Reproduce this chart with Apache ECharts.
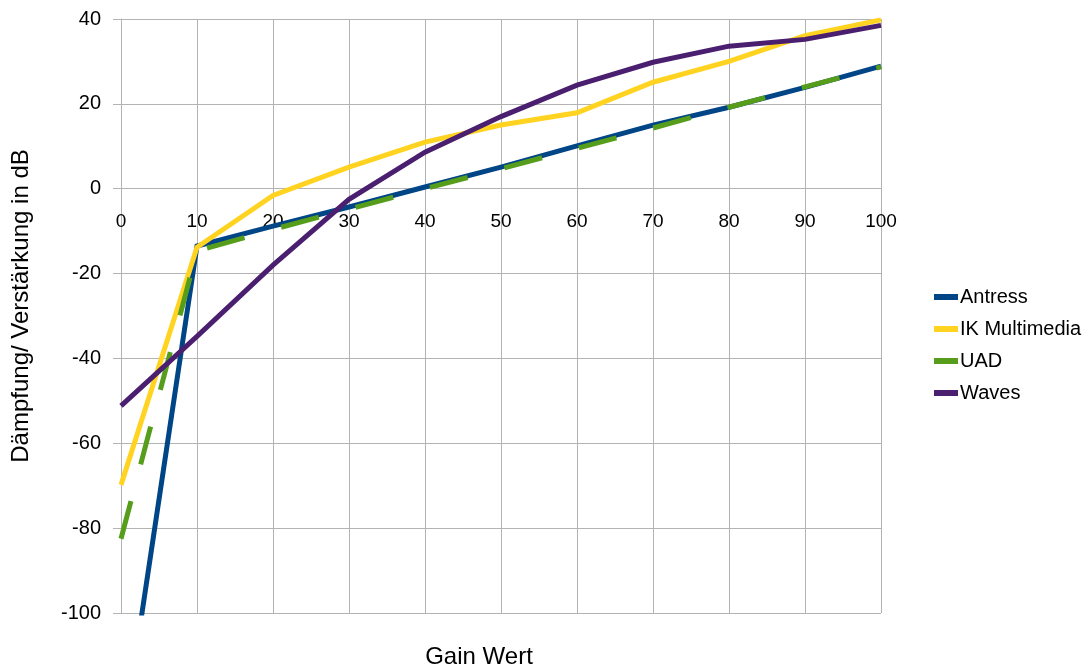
<!DOCTYPE html>
<html>
<head>
<meta charset="utf-8">
<script src="https://cdn.jsdelivr.net/npm/echarts@6/dist/echarts.min.js"></script>
<style>
html,body{margin:0;padding:0;background:#fff;}
#chart{width:1083px;height:669px;}
</style>
</head>
<body>
<div id="chart"></div>
<script>
var gainValues = [0, 10, 20, 30, 40, 50, 60, 70, 80, 90, 100];
var antress = [-133, -13.5, -8.8, -4.3, 0.4, 5.1, 10.1, 15, 19.2, 23.9, 28.9];
var ikMultimedia = [-69.8, -13.8, -1.6, 5.1, 11, 15, 17.9, 25.1, 30, 36.1, 39.8];
var uad = [-82.5, -14.7, -9.6, -4.8, 0, 4.7, 9.5, 14.3, 19.2, 24, 28.7];
var waves = [-51.2, -34.8, -18, -2.5, 8.6, 17, 24.4, 29.8, 33.6, 35.2, 38.5];
var seriesNames = ['Antress', 'IK Multimedia', 'UAD', 'Waves'];
var seriesColors = ['#004586', '#ffd320', '#579d1c', '#4b1f6f'];
var xAxisTitle = 'Gain Wert';
var yAxisTitle = 'Dämpfung/ Verstärkung in dB';

function pairs(ys) {
  return gainValues.map(function (x, i) { return [x, ys[i]]; });
}
var allData = [antress, ikMultimedia, uad, waves];

var chart = echarts.init(document.getElementById('chart'));
var fontFam = '"Liberation Sans", Arial, sans-serif';
var gridBottom = 56;
chart.setOption({
  animation: false,
  backgroundColor: '#ffffff',
  textStyle: { fontFamily: fontFam },
  grid: { left: 121, right: 202, top: 19, bottom: gridBottom, containLabel: false, outerBoundsMode: 'none' },
  legend: {
    orient: 'vertical',
    left: 929,
    top: 282,
    icon: 'rect',
    itemWidth: 24,
    itemHeight: 6,
    itemGap: 12,
    textStyle: { fontSize: 20, color: '#000', fontFamily: fontFam, padding: [0, 0, 0, -3] },
    data: seriesNames
  },
  xAxis: {
    type: 'value',
    min: 0, max: 100, interval: 10,
    name: xAxisTitle,
    nameLocation: 'middle',
    nameGap: 457,
    nameTextStyle: { fontSize: 24, color: '#000', padding: [0, 44, 0, 0] },
    axisLine: { onZero: false, lineStyle: { color: '#b3b3b3', width: 1 } },
    axisTick: { show: false },
    axisLabel: { fontSize: 19, color: '#000', margin: 24 },
    splitLine: { show: true, lineStyle: { color: '#b3b3b3', width: 1 } }
  },
  yAxis: {
    type: 'value',
    min: -100, max: 40, interval: 20,
    name: yAxisTitle,
    nameLocation: 'middle',
    nameGap: 88,
    nameRotate: 90,
    nameTextStyle: { fontSize: 24, color: '#000', padding: [0, 0, 0, 20] },
    axisLine: { show: true, onZero: false, lineStyle: { color: '#b3b3b3', width: 1 } },
    axisTick: { show: true, length: 8, lineStyle: { color: '#b3b3b3' } },
    axisLabel: { fontSize: 20, color: '#000', margin: 20 },
    splitLine: { show: true, lineStyle: { color: '#b3b3b3', width: 1 } }
  },
  series: seriesNames.map(function (n, i) {
    return {
      name: n,
      type: 'line',
      data: pairs(allData[i]),
      showSymbol: false,
      symbol: 'none',
      clip: true,
      color: seriesColors[i],
      lineStyle: {
        width: 5,
        color: seriesColors[i],
        type: n === 'UAD' ? [39, 38] : 'solid',
        cap: 'butt',
        join: 'miter'
      },
      z: 2 + i
    };
  })
});
// place the x axis on the y = 0 line, using the library's own y scale
var zeroY = chart.convertToPixel({ yAxisIndex: 0 }, 0);
var bottomY = chart.getHeight() - gridBottom;
chart.setOption({
  xAxis: { offset: zeroY - bottomY }
});
</script>
</body>
</html>
